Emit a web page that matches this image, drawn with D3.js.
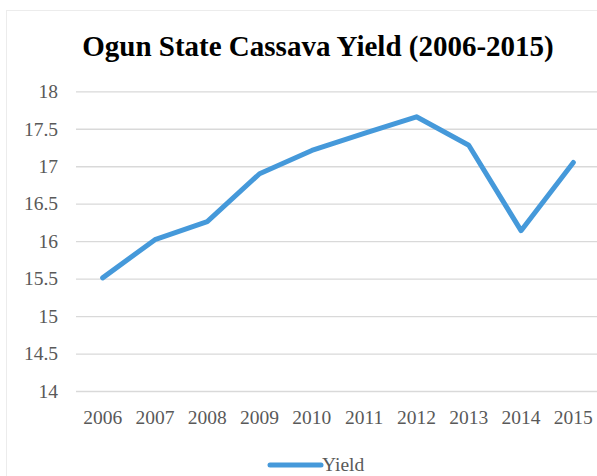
<!DOCTYPE html>
<html><head><meta charset="utf-8">
<script src="https://cdn.jsdelivr.net/npm/d3@7"></script>
<style>html,body{margin:0;padding:0;background:#fff;overflow:hidden}</style>
</head><body>
<script>
const years = ["2006","2007","2008","2009","2010","2011","2012","2013","2014","2015"];
const yieldValues = [15.51, 16.02, 16.26, 16.90, 17.21, 17.44, 17.66, 17.28, 16.14, 17.05];
const yTicks = [14, 14.5, 15, 15.5, 16, 16.5, 17, 17.5, 18];
const title = "Ogun State Cassava Yield (2006-2015)";
const seriesName = "Yield";

const W = 597, H = 476;
const svg = d3.select("body").append("svg").attr("width", W).attr("height", H);

svg.append("rect").attr("x", 6.5).attr("y", 10.5).attr("width", 620).attr("height", 500)
  .attr("fill", "none").attr("stroke", "#ececec");

const x = d3.scaleBand().domain(years).range([76.5, 599.5]);
const y = d3.scaleLinear().domain([14, 18]).range([391, 91.3]);

svg.append("text").attr("x", 318).attr("y", 56).attr("text-anchor", "middle")
  .attr("font-family", "Liberation Serif").attr("font-weight", "bold")
  .attr("font-size", 29).attr("fill", "#000").text(title);

// grid
const grid = svg.append("g")
  .call(d3.axisLeft(y).tickValues(yTicks).tickSize(-(600 - 76)).tickFormat(""))
  .attr("transform", "translate(76,0)");
grid.select(".domain").remove();
grid.selectAll("line").attr("stroke", "#d9d9d9").attr("stroke-width", 1.3);

// y labels
const yAxis = svg.append("g").attr("transform", "translate(58,0)")
  .call(d3.axisLeft(y).tickValues(yTicks).tickSize(0).tickPadding(0).tickFormat(d3.format("")));
yAxis.select(".domain").remove();
yAxis.selectAll("text").attr("font-family", "Liberation Serif").attr("font-size", 19.5)
  .attr("fill", "#595959");

// x labels
const xAxis = svg.append("g").attr("transform", "translate(0,391)")
  .call(d3.axisBottom(x).tickSize(0).tickPadding(19));
xAxis.select(".domain").remove();
xAxis.selectAll("text").attr("font-family", "Liberation Serif").attr("font-size", 19.5)
  .attr("fill", "#595959");

const line = d3.line().x((d, i) => x(years[i]) + x.bandwidth() / 2).y(d => y(d));
svg.append("path").datum(yieldValues).attr("d", line).attr("fill", "none")
  .attr("stroke", "#4599da").attr("stroke-width", 5).attr("stroke-linejoin", "round")
  .attr("stroke-linecap", "round");

// legend
svg.append("line").attr("x1", 270).attr("x2", 321).attr("y1", 465).attr("y2", 465)
  .attr("stroke", "#4599da").attr("stroke-width", 5).attr("stroke-linecap", "round");
svg.append("text").attr("x", 322).attr("y", 471).attr("font-family", "Liberation Serif")
  .attr("font-size", 19.5).attr("fill", "#595959").text(seriesName);
</script>
</body></html>
